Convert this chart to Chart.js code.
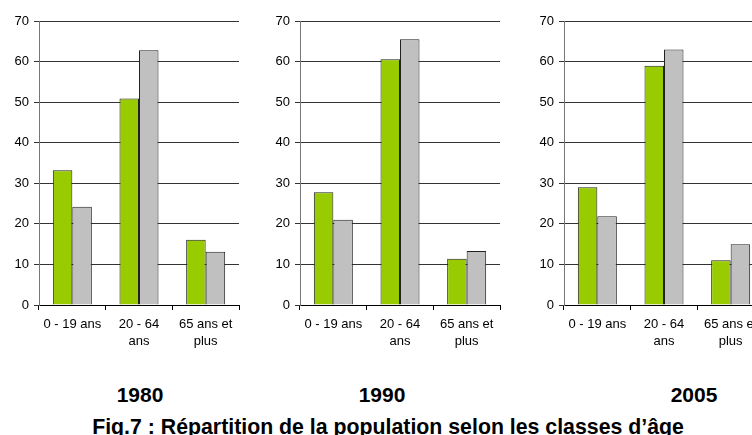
<!DOCTYPE html>
<html>
<head>
<meta charset="utf-8">
<script src="https://cdn.jsdelivr.net/npm/chart.js@4/dist/chart.umd.min.js"></script>
<style>
    html, body { margin: 0; padding: 0; background: #fff; }
    body { width: 752px; height: 435px; overflow: hidden; position: relative; font-family: Arial, "Liberation Sans", sans-serif; }
    .panel { position: absolute; top: 0; width: 250px; height: 360px; }
    .year, .title { position: absolute; font-weight: bold; font-size: 21px; line-height: 21px; white-space: nowrap; color: #000; transform: translateX(-50%); }
    .title { font-size: 21.3px; }
</style>
</head>
<body>
<div class="panel" style="left:0px"><canvas id="c1980"></canvas></div>
<div class="panel" style="left:261px"><canvas id="c1990"></canvas></div>
<div class="panel" style="left:525px"><canvas id="c2005"></canvas></div>
<div class="year" style="left:140px; top:384px">1980</div>
<div class="year" style="left:382px; top:384px">1990</div>
<div class="year" style="left:694px; top:384px">2005</div>
<div class="title" style="left:388px; top:417px">Fig.7 : Répartition de la population selon les classes d’âge</div>
<script>
const categories = [['0 - 19 ans'], ['20 - 64', 'ans'], ['65 ans et', 'plus']]
const yTicks = [0, 10, 20, 30, 40, 50, 60, 70]

const green1980 = [33.2, 50.9, 16.1]
const gray1980 = [24.2, 62.8, 13.1]
const green1990 = [27.8, 60.6, 11.4]
const gray1990 = [21.0, 65.5, 13.3]
const green2005 = [29.0, 59.0, 11.0]
const gray2005 = [21.9, 63.0, 15.0]

Chart.defaults.font.family = 'Arial, "Liberation Sans", sans-serif'
Chart.defaults.color = '#000'

function makeChart(id, greens, grays) {
    const canvas = document.getElementById(id)
    return new Chart(canvas, {
        type: 'bar',
        data: {
            labels: categories,
            datasets: [{
                data: greens,
                backgroundColor: '#99cc00',
                borderColor: '#222',
                borderWidth: 1,
                categoryPercentage: 0.585,
                barPercentage: 1
            }, {
                data: grays,
                backgroundColor: '#c0c0c0',
                borderColor: '#222',
                borderWidth: 1,
                categoryPercentage: 0.585,
                barPercentage: 1
            }]
        },
        options: {
            responsive: false,
            animation: false,
            devicePixelRatio: 1,
            layout: { padding: { top: 21, right: 11, bottom: 0, left: 0 } },
            plugins: { legend: { display: false }, tooltip: { enabled: false } },
            scales: {
                x: {
                    grid: { drawOnChartArea: false, drawTicks: true, tickLength: 5, color: '#000', offset: true },
                    border: { color: '#000', width: 1 },
                    ticks: { font: { size: 13, lineHeight: 1.38 }, padding: 5, maxRotation: 0, autoSkip: false },
                    afterFit: function(scale) { scale.height = 55 }
                },
                y: {
                    min: 0,
                    max: 70,
                    afterBuildTicks: function(scale) { scale.ticks = yTicks.map(v => ({ value: v })) },
                    grid: { color: '#333', tickLength: 5, lineWidth: 1 },
                    border: { color: '#777', width: 1 },
                    ticks: { font: { size: 13 }, padding: 5 },
                    afterFit: function(scale) { scale.width = 39 }
                }
            }
        }
    })
}

function setSize(id) {
    const c = document.getElementById(id)
    c.width = 250
    c.height = 360
    c.style.width = '250px'
    c.style.height = '360px'
}

window.addEventListener('load', function() {
    setSize('c1980')
    setSize('c1990')
    setSize('c2005')
    makeChart('c1980', green1980, gray1980)
    makeChart('c1990', green1990, gray1990)
    makeChart('c2005', green2005, gray2005)
})
</script>
</body>
</html>
